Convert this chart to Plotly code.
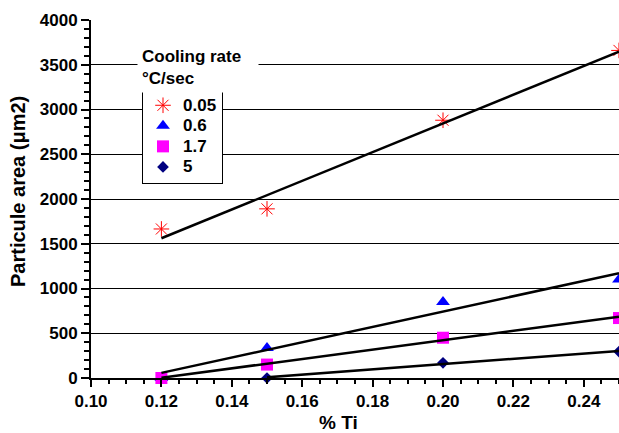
import numpy as np
import plotly.graph_objects as go

# ---- data ----
rate_labels = ["0.05", "0.6", "1.7", "5"]
ti_005 = [0.12, 0.15, 0.20, 0.25]
area_005 = [1665, 1890, 2880, 3660]
ti_06 = [0.12, 0.15, 0.20, 0.25]
area_06 = [0, 335, 850, 1100]
ti_17 = [0.12, 0.15, 0.20, 0.25]
area_17 = [0, 150, 450, 670]
ti_5 = [0.15, 0.20, 0.25]
area_5 = [0, 170, 295]

x_ticks = [0.10, 0.12, 0.14, 0.16, 0.18, 0.20, 0.22, 0.24]
y_ticks = [0, 500, 1000, 1500, 2000, 2500, 3000, 3500, 4000]

FONT = "Arial, Liberation Sans, sans-serif"

series = [
    (rate_labels[0], ti_005, area_005, dict(symbol="asterisk-open", size=13, color="#FF0000",
                                             line=dict(color="#FF0000", width=1))),
    (rate_labels[1], ti_06, area_06, dict(symbol="triangle-up", size=12, color="#0000FF")),
    (rate_labels[2], ti_17, area_17, dict(symbol="square", size=12, color="#FF00FF")),
    (rate_labels[3], ti_5, area_5, dict(symbol="diamond", size=9, color="#000080")),
]

fig = go.Figure()

for name, xs, ys, mk in series:
    fig.add_trace(go.Scatter(
        x=xs, y=ys, mode="markers", marker=mk,
        name='<span style="font-size:17px">' + name + '</span>',
        cliponaxis=False, showlegend=True))

# linear trendlines computed from data
for name, xs, ys, mk in series:
    xa = np.array(xs, dtype=float)
    ya = np.array(ys, dtype=float)
    k, b = np.polyfit(xa, ya, 1)
    xl = np.array([xa.min(), xa.max()])
    fig.add_trace(go.Scatter(
        x=xl, y=k * xl + b, mode="lines",
        line=dict(color="black", width=2.5),
        showlegend=False, hoverinfo="skip"))

fig.update_layout(
    width=619, height=433, autosize=False,
    margin=dict(l=91, r=0, t=20, b=55),
    paper_bgcolor="white", plot_bgcolor="white",
    font=dict(family=FONT, size=17, color="black", weight="bold"),
    legend=dict(
        x=(142 - 91) / 528, y=(378 - 89) / 358, xanchor="left", yanchor="top",
        bgcolor="white", bordercolor="black", borderwidth=1,
        font=dict(family=FONT, size=13.5, color="black", weight="bold"),
        tracegroupgap=0, itemwidth=30,
    ),
    showlegend=True,
)

fig.update_xaxes(
    range=[0.10, 0.25], tickvals=x_ticks, ticktext=[f"{v:.2f}" for v in x_ticks],
    showgrid=False, zeroline=False,
    showline=True, linecolor="black", linewidth=2,
    ticks="outside", ticklen=7, tickwidth=2, tickcolor="black",
    tickfont=dict(family=FONT, size=17, color="black", weight="bold"),
    minor=dict(dtick=0.005, tick0=0.10, ticks="outside", ticklen=4, tickwidth=1.5,
               tickcolor="black", showgrid=False),
)
fig.update_yaxes(
    range=[0, 4000], tickvals=y_ticks, ticktext=[str(v) for v in y_ticks],
    showgrid=True, gridcolor="#000000", gridwidth=1, zeroline=False,
    showline=True, linecolor="black", linewidth=2,
    ticks="outside", ticklen=8, tickwidth=2, tickcolor="black",
    tickfont=dict(family=FONT, size=17, color="black", weight="bold"),
    minor=dict(dtick=100, ticks="outside", ticklen=5, tickwidth=1.5,
               tickcolor="black", showgrid=False),
)

fig.add_annotation(
    text="Cooling rate<br>°C/sec", xref="paper", yref="paper",
    x=(137 - 91) / 528, y=(378 - 42) / 358, xanchor="left", yanchor="top",
    align="left", width=112, showarrow=False, bgcolor="white", borderpad=4,
    font=dict(family=FONT, size=17, color="black", weight="bold"),
)
fig.add_annotation(
    text="Particule area (μm2)", xref="paper", yref="paper",
    x=(18 - 91) / 528, y=(378 - 192) / 358, xanchor="center", yanchor="middle",
    textangle=-90, showarrow=False,
    font=dict(family=FONT, size=20, color="black", weight="bold"),
)
fig.add_annotation(
    text="% Ti", xref="paper", yref="paper",
    x=(338 - 91) / 528, y=(378 - 422) / 358, xanchor="center", yanchor="middle",
    showarrow=False,
    font=dict(family=FONT, size=19, color="black", weight="bold"),
)

fig.write_html("out.html")
